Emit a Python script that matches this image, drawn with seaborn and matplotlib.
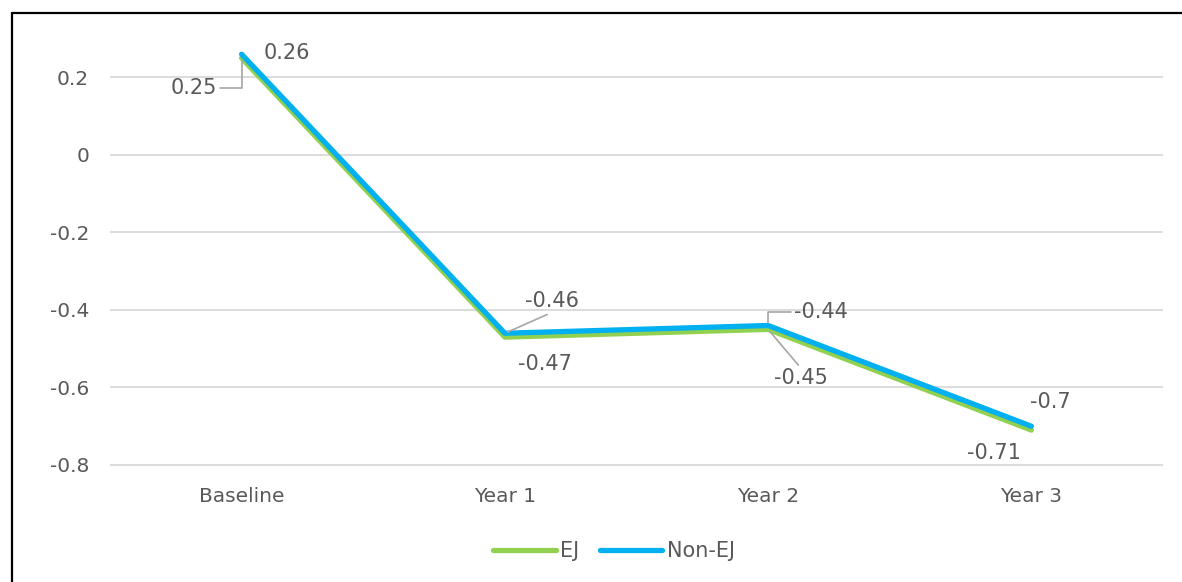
import matplotlib
matplotlib.use("Agg")
import matplotlib.pyplot as plt
import seaborn as sns
import pandas as pd
from matplotlib.lines import Line2D

categories = ["Baseline", "Year 1", "Year 2", "Year 3"]
ej_values = [0.25, -0.47, -0.45, -0.71]
nonej_values = [0.26, -0.46, -0.44, -0.70]
series_names = ["EJ", "Non-EJ"]
y_ticks = [-0.8, -0.6, -0.4, -0.2, 0, 0.2]
y_tick_labels = ["-0.8", "-0.6", "-0.4", "-0.2", "0", "0.2"]

df = pd.DataFrame({
    "cat": categories * 2,
    "pos": list(range(len(categories))) * 2,
    "value": ej_values + nonej_values,
    "series": [series_names[0]] * 4 + [series_names[1]] * 4,
})

sns.set_theme(style="white")
plt.rcParams["font.family"] = ["DejaVu Sans"]
TXT = "#595959"
palette = {"EJ": "#92D050", "Non-EJ": "#00B0F0"}

fig = plt.figure(figsize=(11.82, 5.82), dpi=100)
ax = fig.add_axes([110 / 1182, 1 - 466 / 582, (1163 - 110) / 1182, (466 - 38.75) / 582])

sns.lineplot(data=df, x="pos", y="value", hue="series", hue_order=series_names,
             palette=palette, ax=ax, linewidth=3.8, legend=False,
             solid_capstyle="round", solid_joinstyle="round", zorder=3)

ax.set_xlim(-0.5, 3.5)
ax.set_ylim(-0.8026, 0.3)
ax.set_yticks(y_ticks)
ax.set_yticklabels(y_tick_labels)
ax.set_xticks(range(len(categories)))
ax.set_xticklabels(categories)
ax.set_xlabel("")
ax.set_ylabel("")
ax.tick_params(axis="both", length=0, colors=TXT, labelsize=14.5)
ax.tick_params(axis="y", pad=15)
ax.tick_params(axis="x", pad=15)
for s in ax.spines.values():
    s.set_visible(False)
ax.yaxis.grid(True, color="#D9D9D9", linewidth=1.3, zorder=0)
ax.xaxis.grid(False)

lab_kw = dict(textcoords="offset pixels", fontsize=15, color=TXT, va="center", ha="center")
lead = dict(arrowstyle="-", color="#A6A6A6", linewidth=1.2, shrinkA=0, shrinkB=2)

# Baseline
ax.annotate(f"{nonej_values[0]:g}", xy=(0, nonej_values[0]), xytext=(45, 1), **lab_kw)
ax.annotate(f"{ej_values[0]:g}", xy=(0, ej_values[0]), xytext=(-48, -30),
            arrowprops=dict(**lead, relpos=(1, 0.5), connectionstyle="angle,angleA=0,angleB=90,rad=0"),
            **lab_kw)
# Year 1
ax.annotate(f"{nonej_values[1]:g}", xy=(1, nonej_values[1]), xytext=(47, 32),
            arrowprops=dict(**lead, relpos=(0.55, 0)), **lab_kw)
ax.annotate(f"{ej_values[1]:g}", xy=(1, ej_values[1]), xytext=(40, -27), **lab_kw)
# Year 2
ax.annotate(f"{nonej_values[2]:g}", xy=(2, nonej_values[2]), xytext=(53, 13),
            arrowprops=dict(**lead, relpos=(0, 0.5), connectionstyle="angle,angleA=0,angleB=90,rad=0"),
            **lab_kw)
ax.annotate(f"{ej_values[2]:g}", xy=(2, ej_values[2]), xytext=(33, -49),
            arrowprops=dict(**lead, relpos=(0.5, 1)), **lab_kw)
# Year 3
ax.annotate(f"{nonej_values[3]:g}", xy=(3, nonej_values[3]), xytext=(19, 24), **lab_kw)
ax.annotate(f"{ej_values[3]:g}", xy=(3, ej_values[3]), xytext=(-37, -23), **lab_kw)

handles = [Line2D([0], [0], color=palette[n], linewidth=3.8, solid_capstyle="round") for n in series_names]
leg = fig.legend(handles, series_names, loc="center", bbox_to_anchor=(614 / 1182, 1 - 551 / 582),
                 ncol=2, frameon=False, fontsize=15, handlelength=3.0, handletextpad=0.2,
                 columnspacing=1.0)
for t in leg.get_texts():
    t.set_color(TXT)

# outer border (top and left edges)
fig.add_artist(Line2D([12 / 1182, 1], [1 - 13 / 582, 1 - 13 / 582], transform=fig.transFigure,
                      color="black", linewidth=1.6))
fig.add_artist(Line2D([12 / 1182, 12 / 1182], [0, 1 - 13 / 582], transform=fig.transFigure,
                      color="black", linewidth=1.6))

fig.savefig("out.png", dpi=100, facecolor="white")
